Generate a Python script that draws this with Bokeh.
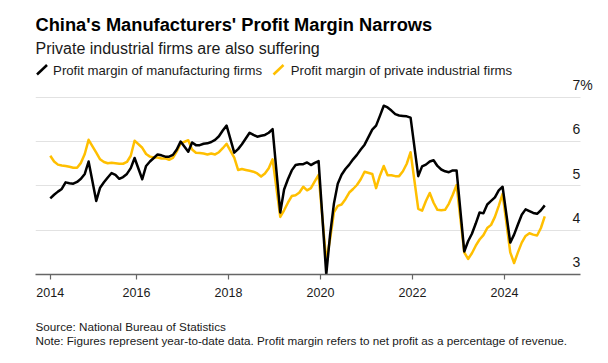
from bokeh.plotting import figure
from bokeh.layouts import column
from bokeh.models import Range1d, FixedTicker, Label, Arrow
from bokeh.embed import file_html
from bokeh.resources import INLINE

# ---------------- data ----------------
years = list(range(2014, 2025))
months = list(range(2, 13))          # Jan-Feb reported together, so each year runs Feb..Dec
last_month_2024 = 11

manufacturing = [
    4.72, 4.80, 4.87, 4.93, 5.08, 5.06, 5.05, 5.09, 5.16, 5.27, 5.55,   # 2014
    4.66, 4.96, 5.08, 5.19, 5.29, 5.25, 5.16, 5.20, 5.27, 5.40, 5.63,   # 2015
    5.15, 5.45, 5.55, 5.63, 5.71, 5.69, 5.66, 5.66, 5.70, 5.82, 6.00,   # 2016
    5.77, 5.98, 5.92, 5.92, 5.95, 5.96, 5.99, 6.04, 6.12, 6.25, 6.36,   # 2017
    5.75, 5.83, 5.94, 6.07, 6.20, 6.15, 6.11, 6.13, 6.15, 6.20, 6.28,   # 2018
    4.40, 4.92, 5.15, 5.35, 5.47, 5.49, 5.49, 5.53, 5.47, 5.52, 5.56,   # 2019
    3.00, 3.90, 4.60, 5.05, 5.25, 5.38, 5.48, 5.60, 5.70, 5.82, 5.93,   # 2020
    6.27, 6.36, 6.58, 6.81, 6.77, 6.70, 6.62, 6.59, 6.58, 6.57, 6.54,   # 2021
    5.22, 5.44, 5.48, 5.55, 5.58, 5.45, 5.37, 5.33, 5.31, 5.35, 5.35,   # 2022
    3.52, 3.75, 3.92, 4.15, 4.40, 4.38, 4.58, 4.66, 4.74, 4.90, 4.98,   # 2023
    3.72, 3.90, 4.13, 4.35, 4.47, 4.43, 4.39, 4.37, 4.45, 4.56,         # 2024
]

private = [
    5.68, 5.55, 5.48, 5.46, 5.45, 5.43, 5.41, 5.41, 5.52, 5.72, 6.04,   # 2014
    5.75, 5.60, 5.54, 5.51, 5.52, 5.51, 5.50, 5.50, 5.54, 5.68, 6.02,   # 2015
    5.86, 5.72, 5.66, 5.64, 5.64, 5.62, 5.62, 5.59, 5.63, 5.78, 5.96,   # 2016
    6.03, 5.82, 5.75, 5.74, 5.73, 5.71, 5.73, 5.71, 5.76, 5.85, 5.95,   # 2017
    5.64, 5.36, 5.38, 5.36, 5.34, 5.32, 5.28, 5.21, 5.28, 5.40, 5.60,   # 2018
    4.30, 4.45, 4.62, 4.77, 4.79, 4.85, 4.98, 4.90, 4.95, 5.10, 5.25,   # 2019
    3.30, 3.80, 4.40, 4.55, 4.58, 4.70, 4.85, 4.93, 5.02, 5.15, 5.32,   # 2020
    5.27, 4.95, 5.23, 5.45, 5.24, 5.24, 5.22, 5.22, 5.33, 5.50, 5.76,   # 2021
    4.48, 4.44, 4.66, 4.84, 4.62, 4.46, 4.45, 4.46, 4.60, 4.80, 5.02,   # 2022
    3.50, 3.35, 3.48, 3.65, 3.79, 3.89, 4.05, 4.12, 4.30, 4.55, 4.82,   # 2023
    3.50, 3.26, 3.50, 3.72, 3.87, 3.93, 3.90, 3.88, 4.05, 4.31,         # 2024
]

x_tick_years = [2014, 2016, 2018, 2020, 2022, 2024]
x_tick_labels = ["2014", "2016", "2018", "2020", "2022", "2024"]
y_ticks = [3, 4, 5, 6, 7]
y_tick_labels = ["3", "4", "5", "6", "7%"]

title = "China's Manufacturers' Profit Margin Narrows"
subtitle = "Private industrial firms are also suffering"
series_names = ["Profit margin of manufacturing firms", "Profit margin of private industrial firms"]
source = "Source: National Bureau of Statistics"
note = "Note: Figures represent year-to-date data. Profit margin refers to net profit as a percentage of revenue."

# ---------------- style / layout constants ----------------
BLACK = "#000000"
YELLOW = "#FFBF00"
TEXT = "#1a1a1a"
FONT = "Liberation Sans"
W = 608
BORDER_L, BORDER_R = 35, 8
HEADER_H, MAIN_H, FOOTER_H = 78, 227, 58
RAISE = 0.3   # text sits ~0.3 em low with alphabetic baseline; lift it by this much

# x: decimal years; frame spans x_start..x_end, grid/axis line end at x_line_end
x_start, x_end, x_line_end = 2013.804, 2026.087, 2025.652
y_start, y_end = 3.0, 7.424

dates = [(y, m) for y in years for m in months if not (y == 2024 and m > last_month_2024)]
xs = [y + (m - 0.5) / 12 for y, m in dates]


def blank(height, y0):
    # same side borders as the chart, so the column lines the frames up; data units = page pixels
    f = figure(width=W, height=height, output_backend="svg", toolbar_location=None,
               x_range=Range1d(BORDER_L, W - BORDER_R), y_range=Range1d(y0 + height, y0),
               x_axis_location=None, y_axis_location=None, title=None,
               min_border_left=BORDER_L, min_border_right=BORDER_R,
               min_border_top=0, min_border_bottom=0)
    f.grid.visible = False
    f.outline_line_color = None
    f.background_fill_color = "white"
    f.border_fill_color = "white"
    return f


def text(fig, x, baseline_y, txt, size, color=TEXT, style="normal"):
    fig.add_layout(Label(x=x, y=baseline_y - RAISE * size, text=txt, text_font=FONT,
                         text_font_style=style, text_font_size=f"{size}px",
                         text_color=color, text_baseline="alphabetic"))


# ---------------- header ----------------
head = blank(HEADER_H, 0)
text(head, 35, 29.3, title, 18.3, color="#000000", style="bold")
text(head, 35, 52.5, subtitle, 16)
for ix, tx, name, col in zip([36.5, 273], [52.6, 290.3], series_names, [BLACK, YELLOW]):
    head.add_layout(Arrow(x_start=ix, y_start=74, x_end=ix + 10, y_end=64.5, end=None,
                          line_color=col, line_width=2.5))
    text(head, tx, 74, name, 13.2)

# ---------------- main chart ----------------
p = figure(width=W, height=MAIN_H, output_backend="svg", toolbar_location=None,
           x_range=Range1d(x_start, x_end), y_range=Range1d(y_start, y_end),
           min_border_left=BORDER_L, min_border_right=BORDER_R,
           min_border_top=0, min_border_bottom=31)
p.outline_line_color = None
p.background_fill_color = "white"
p.border_fill_color = "white"

p.line(xs, private, line_color=YELLOW, line_width=2.5, line_join="round")
p.line(xs, manufacturing, line_color=BLACK, line_width=2.5, line_join="round")

p.yaxis.visible = False
p.xgrid.visible = False
g = p.ygrid[0]
g.ticker = FixedTicker(ticks=y_ticks[1:])
g.grid_line_color = "#e2e2e2"
g.grid_line_width = 1.2
if "cross_bounds" in g.properties():
    g.cross_bounds = (x_start, x_line_end)

x_tick_pos = [xs[0]] + x_tick_years[1:]
xa = p.xaxis[0]
xa.bounds = (x_start, x_line_end)
xa.ticker = FixedTicker(ticks=x_tick_pos)
xa.major_label_overrides = {t: l for t, l in zip(x_tick_pos, x_tick_labels)}
xa.axis_line_color = "#666666"
xa.axis_line_width = 1.5
xa.major_tick_line_color = "#666666"
xa.major_tick_line_width = 1.2
xa.major_tick_out = 5
xa.major_tick_in = 0
xa.minor_tick_line_color = None
xa.major_label_text_font = FONT
xa.major_label_text_font_size = "12.5px"
xa.major_label_text_color = TEXT
xa.major_label_standoff = 8

y_label_x = 2025.478
y_label_size = 14
for v, lab in zip(y_ticks, y_tick_labels):
    p.add_layout(Label(x=y_label_x, y=v, y_offset=8 + RAISE * y_label_size, text=lab,
                       text_font=FONT, text_font_size=f"{y_label_size}px", text_color=TEXT,
                       text_align="left", text_baseline="alphabetic"))

# ---------------- footer ----------------
foot = blank(FOOTER_H, HEADER_H + MAIN_H)
text(foot, 35, 330, source, 11.7)
text(foot, 35, 343.5, note, 11.7)

layout = column(head, p, foot, spacing=0)
open("out.html", "w").write(file_html(layout, INLINE))
